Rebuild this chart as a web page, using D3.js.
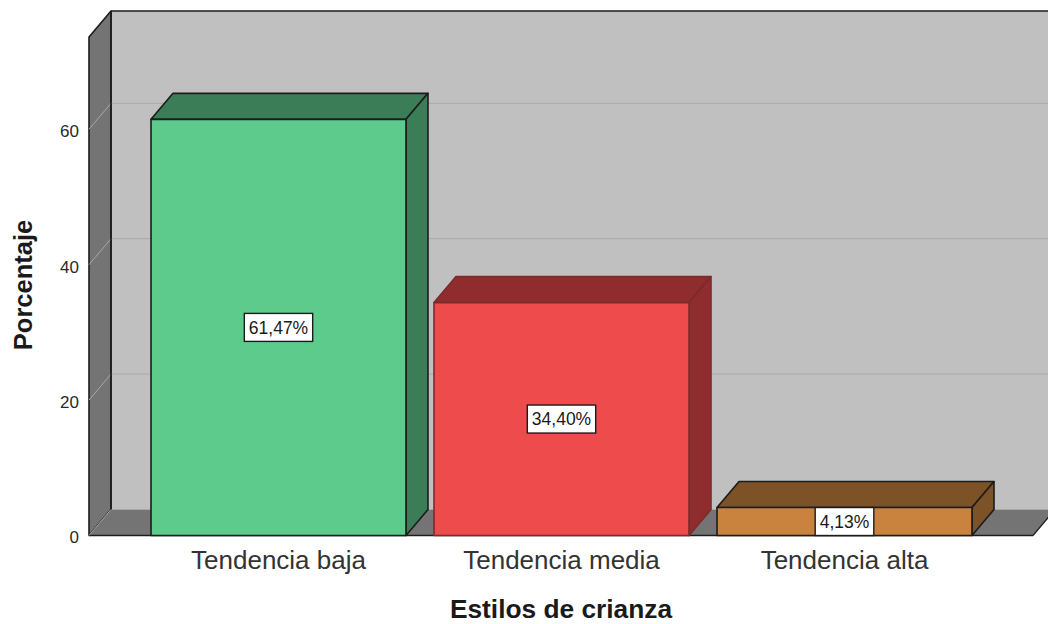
<!DOCTYPE html>
<html>
<head>
<meta charset="utf-8">
<script src="https://cdn.jsdelivr.net/npm/d3@7"></script>
<style>
  html, body { margin: 0; padding: 0; background: #fff; }
  svg { display: block; }
  text { font-family: "Liberation Sans", Arial, sans-serif; fill: #1a1a1a; }
</style>
</head>
<body>
<div id="chart"></div>
<script>
const categories = ["Tendencia baja", "Tendencia media", "Tendencia alta"];
const values = [61.47, 34.40, 4.13];
const valueLabels = ["61,47%", "34,40%", "4,13%"];
const yTicks = [0, 20, 40, 60];
const frontColors = ["#5ccb8c", "#ee4b4d", "#c9833f"];
const darkColors = ["#3a7d56", "#8f2d2e", "#7d5227"];
const edgeColors = ["#1c1c1c", "#7c2a2b", "#1c1c1c"];

const width = 1048;
const height = 624;
const depthX = 22;
const depthY = 26;
const plotLeft = 89;
const plotRight = 1033;
const plotBottom = 535.5;
const plotTop = 37;

const x = d3.scaleBand()
    .domain(categories)
    .range([137, 986])
    .paddingInner(0.099)
    .paddingOuter(0.0495);

const y = d3.scaleLinear()
    .domain([0, 73.63])
    .range([plotBottom, plotTop]);

const svg = d3.select("#chart").append("svg")
    .attr("width", width)
    .attr("height", height)
    .attr("viewBox", [0, 0, width, height]);

const poly = (pts) => pts.map(p => p.join(",")).join(" ");
const stroke = "#1c1c1c";

// back wall
svg.append("polygon")
    .attr("points", poly([
      [plotLeft + depthX, plotBottom - depthY],
      [plotLeft + depthX, plotTop - depthY],
      [plotRight + depthX, plotTop - depthY],
      [plotRight + depthX, plotBottom - depthY]]))
    .attr("fill", "#c0c0c0");

svg.append("line")
    .attr("x1", plotLeft + depthX).attr("x2", width + 10)
    .attr("y1", plotTop - depthY).attr("y2", plotTop - depthY)
    .attr("stroke", stroke).attr("stroke-width", 1.6);

// left wall
svg.append("polygon")
    .attr("points", poly([
      [plotLeft, plotBottom],
      [plotLeft, plotTop],
      [plotLeft + depthX, plotTop - depthY],
      [plotLeft + depthX, plotBottom - depthY]]))
    .attr("fill", "#747474")
    .attr("stroke", stroke)
    .attr("stroke-width", 1.6)
    .attr("stroke-linejoin", "round");

// floor
svg.append("polygon")
    .attr("points", poly([
      [plotLeft, plotBottom],
      [plotLeft + depthX, plotBottom - depthY],
      [plotRight + depthX, plotBottom - depthY],
      [plotRight, plotBottom]]))
    .attr("fill", "#747474");

svg.append("line")
    .attr("x1", plotLeft).attr("x2", plotRight)
    .attr("y1", plotBottom).attr("y2", plotBottom)
    .attr("stroke", stroke).attr("stroke-width", 1.6);

svg.append("line")
    .attr("x1", plotRight).attr("x2", plotRight + depthX)
    .attr("y1", plotBottom).attr("y2", plotBottom - depthY)
    .attr("stroke", stroke).attr("stroke-width", 1.2);

// gridlines, on the back wall and across the left wall
const grid = svg.append("g")
    .attr("fill", "none")
    .attr("stroke", "#a8a8a8")
    .attr("stroke-width", 1);

grid.selectAll("path")
    .data(yTicks)
    .join("path")
    .attr("d", d => d3.line()([
      [plotLeft, y(d)],
      [plotLeft + depthX, y(d) - depthY],
      [plotRight + depthX, y(d) - depthY]]));

// wall edge drawn again over the gridlines
svg.append("line")
    .attr("x1", plotLeft + depthX).attr("x2", plotLeft + depthX)
    .attr("y1", plotTop - depthY).attr("y2", plotBottom - depthY)
    .attr("stroke", stroke).attr("stroke-width", 1.6);

// bars
const bars = svg.append("g")
    .selectAll("g")
    .data(categories)
    .join("g")
    .attr("stroke", (d, i) => edgeColors[i])
    .attr("stroke-width", 1.6)
    .attr("stroke-linejoin", "round");

bars.append("polygon")
    .attr("fill", (d, i) => darkColors[i])
    .attr("points", (d, i) => {
      const x0 = x(d), x1 = x0 + x.bandwidth(), yv = y(values[i]);
      return poly([[x0, yv], [x0 + depthX, yv - depthY], [x1 + depthX, yv - depthY], [x1, yv]]);
    });

bars.append("polygon")
    .attr("fill", (d, i) => darkColors[i])
    .attr("points", (d, i) => {
      const x1 = x(d) + x.bandwidth(), yv = y(values[i]);
      return poly([[x1, yv], [x1 + depthX, yv - depthY], [x1 + depthX, y(0) - depthY], [x1, y(0)]]);
    });

bars.append("rect")
    .attr("fill", (d, i) => frontColors[i])
    .attr("x", d => x(d))
    .attr("y", (d, i) => y(values[i]))
    .attr("width", x.bandwidth())
    .attr("height", (d, i) => y(0) - y(values[i]));

// value labels
const labels = svg.append("g")
    .selectAll("g")
    .data(categories)
    .join("g")
    .attr("transform", (d, i) =>
      `translate(${x(d) + x.bandwidth() / 2},${y(values[i] / 2)})`);

labels.append("text")
    .attr("text-anchor", "middle")
    .attr("dy", "0.36em")
    .attr("font-size", 17.5)
    .text((d, i) => valueLabels[i]);

labels.each(function() {
  const g = d3.select(this);
  const box = g.select("text").node().getBBox();
  g.insert("rect", "text")
    .attr("x", box.x - 4.5)
    .attr("y", -14)
    .attr("width", box.width + 9)
    .attr("height", 28)
    .attr("fill", "#fff")
    .attr("stroke", stroke)
    .attr("stroke-width", 1.4);
});

// axes
svg.append("g")
    .attr("transform", `translate(${plotLeft - 10},2)`)
    .call(d3.axisLeft(y).tickValues(yTicks).tickSize(0).tickPadding(0))
    .call(g => g.select(".domain").remove())
    .call(g => g.selectAll("text").attr("font-size", 17).attr("font-family", null).style("fill", "#2a2a2a"));

svg.append("g")
    .attr("transform", `translate(0,${plotBottom + 15})`)
    .call(d3.axisBottom(x).tickSize(0).tickPadding(0))
    .call(g => g.select(".domain").remove())
    .call(g => g.selectAll("text").attr("font-size", 26).attr("font-family", null).style("fill", "#333"));

svg.append("text")
    .attr("x", 561)
    .attr("y", 618)
    .attr("text-anchor", "middle")
    .attr("font-size", 26.3)
    .attr("font-weight", "bold")
    .text("Estilos de crianza");

svg.append("text")
    .attr("transform", "translate(32,285) rotate(-90)")
    .attr("text-anchor", "middle")
    .attr("font-size", 25.5)
    .attr("font-weight", "bold")
    .text("Porcentaje");
</script>
</body>
</html>
